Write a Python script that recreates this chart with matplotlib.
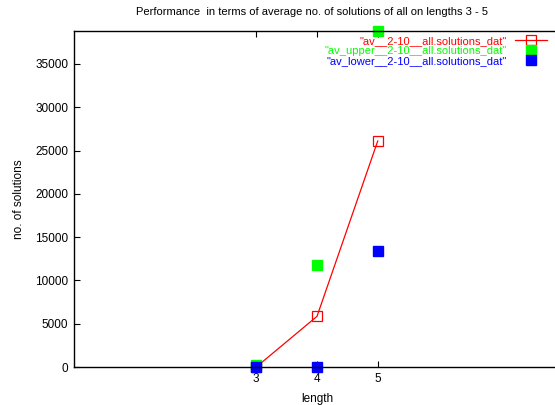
import matplotlib.pyplot as plt

plt.rcParams["font.family"] = ["Liberation Sans", "DejaVu Sans"]

W, H = 555, 405
DPI = 100

lengths = [3, 4, 5]
av_all = [0, 5850, 26100]
av_upper = [230, 11750, 38800]
av_lower = [0, 0, 13350]

labels = [
    '"av__2-10__all.solutions_dat"',
    '"av_upper__2-10__all.solutions_dat"',
    '"av_lower__2-10__all.solutions_dat"',
]
x_ticks = [3, 4, 5]
y_ticks = list(range(0, 40000, 5000))

fig = plt.figure(figsize=(W / DPI, H / DPI), dpi=DPI)
# plot box runs a little past the right edge of the canvas
ax = fig.add_axes([74 / W, 38 / H, (560 - 74) / W, (367 - 31) / H])

ms = 7.5
ax.plot(lengths, av_all, color="#ff0000", lw=0.9, marker="s", ms=ms,
        mfc="none", mec="#ff0000", mew=0.9, label=labels[0], clip_on=False)
ax.plot(lengths, av_upper, ls="none", marker="s", ms=ms, color="#00ff00",
        mec="#00ff00", label=labels[1], clip_on=False)
ax.plot(lengths, av_lower, ls="none", marker="s", ms=ms, color="#0000ff",
        mec="#0000ff", label=labels[2], clip_on=False)

ax.set_xlim(0, 8)
ax.set_ylim(0, max(av_upper))
ax.set_xticks(x_ticks)
ax.set_yticks(y_ticks)
ax.tick_params(direction="in", length=4, width=0.8, labelsize=8.5,
               top=True, right=False, pad=4)
for side in ["left", "top", "bottom"]:
    ax.spines[side].set_linewidth(1.0)

fig.text(312 / W, 1 - 12 / H,
         "Performance  in terms of average no. of solutions of all on lengths 3 - 5",
         fontsize=8.0, ha="center", va="center")
ax.set_xlabel("length", fontsize=8.5, labelpad=6)
ax.set_ylabel("no. of solutions", fontsize=8.5, labelpad=7.5)

leg = ax.legend(loc="upper right", bbox_to_anchor=(547 / W, (405 - 36) / H),
                bbox_transform=fig.transFigure, frameon=False, markerfirst=False,
                numpoints=1, fontsize=8.0, handlelength=2.9, handletextpad=0.75,
                labelspacing=0.0, borderpad=0, borderaxespad=0)
for txt, line in zip(leg.get_texts(), leg.get_lines()):
    txt.set_color(line.get_color())

fig.savefig("out.png", dpi=DPI)
